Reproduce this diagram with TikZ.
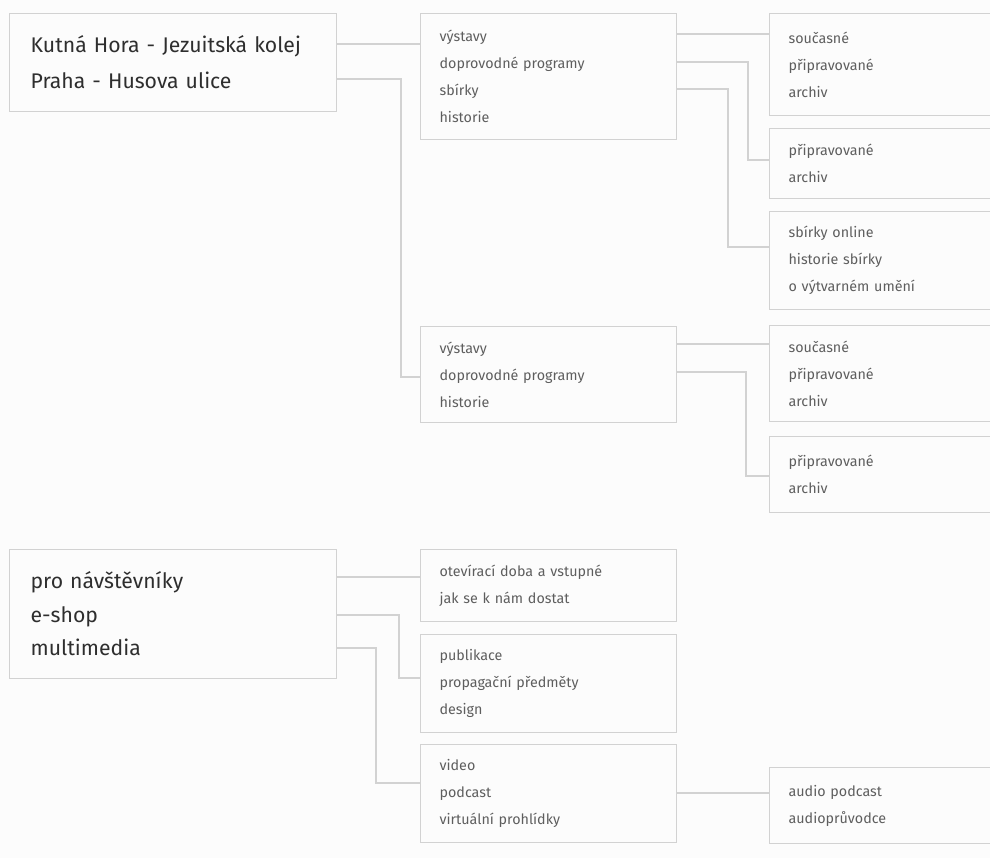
\documentclass[tikz,border=0pt]{standalone}
\usepackage{fontspec}
\setmainfont{Fira Sans}
\usepackage{xcolor}
\usepackage{tikz}
\definecolor{frame1}{HTML}{D2D2D2}
\definecolor{ink1}{HTML}{2E2E2E}
\definecolor{ink2}{HTML}{5E5E5E}
\definecolor{paper}{HTML}{FCFCFC}

\begin{document}
\begin{tikzpicture}[x=1pt, y=-1pt,
    box/.style={draw=frame1, line width=1.2pt, anchor=north west, align=left,
      inner xsep=19pt, inner ysep=0pt, text=ink2, font=\fontsize{14.3}{27}\selectfont},
    mainbox/.style={box, inner xsep=21pt, text=ink1},
    link/.style={draw=frame1, line width=1.2pt}]

    \useasboundingbox (0,0) rectangle (990,858);
    \fill[paper] (0,0) rectangle (990,858);
    \clip (0,0) rectangle (990,858);

    % top block: the two sites
    \node[mainbox, text width=285pt, minimum height=98pt,
      font=\fontsize{21.2}{36}\selectfont] (sites) at (9,13)
      {Kutná Hora - Jezuitská kolej\\Praha - Husova ulice};

    \node[box, text width=218pt, minimum height=126pt] (kh) at (420,13)
      {výstavy\\doprovodné programy\\sbírky\\historie};
    \node[box, text width=218pt, minimum height=96pt] (ph) at (420,326)
      {výstavy\\doprovodné programy\\historie};

    % right column, cut off by the page edge
    \node[box, text width=222pt, minimum height=102pt] (khvys) at (769,13)
      {současné\\připravované\\archiv};
    \node[box, text width=222pt, minimum height=70pt] (khprog) at (769,128)
      {připravované\\archiv};
    \node[box, text width=222pt, minimum height=98pt] (khsb) at (769,211)
      {sbírky online\\historie sbírky\\o výtvarném umění};
    \node[box, text width=222pt, minimum height=96pt] (phvys) at (769,325)
      {současné\\připravované\\archiv};
    \node[box, text width=222pt, minimum height=76pt] (phprog) at (769,436)
      {připravované\\archiv};

    % bottom block: services
    \node[mainbox, text width=285pt, minimum height=129pt,
      font=\fontsize{21.2}{33.5}\selectfont] (serv) at (9,549)
      {pro návštěvníky\\e-shop\\multimedia};

    \node[box, text width=218pt, minimum height=72pt] (visit) at (420,549)
      {otevírací doba a vstupné\\jak se k nám dostat};
    \node[box, text width=218pt, minimum height=98pt] (shop) at (420,634)
      {publikace\\propagační předměty\\design};
    \node[box, text width=218pt, minimum height=98pt] (media) at (420,744)
      {video\\podcast\\virtuální prohlídky};
    \node[box, text width=222pt, minimum height=76pt] (audio) at (769,767)
      {audio podcast\\audioprůvodce};

    % connectors
    \draw[link] (sites.east |- 0,44) -- (kh.west |- 0,44);
    \draw[link] (sites.east |- 0,79) -| (401,377) -- (ph.west |- 0,377);

    \draw[link] (kh.east |- 0,34) -- (khvys.west |- 0,34);
    \draw[link] (kh.east |- 0,62) -| (748,160) -- (khprog.west |- 0,160);
    \draw[link] (kh.east |- 0,89) -| (728,247) -- (khsb.west |- 0,247);

    \draw[link] (ph.east |- 0,344) -- (phvys.west |- 0,344);
    \draw[link] (ph.east |- 0,372) -| (746,476) -- (phprog.west |- 0,476);

    \draw[link] (serv.east |- 0,577) -- (visit.west |- 0,577);
    \draw[link] (serv.east |- 0,615) -| (399,678) -- (shop.west |- 0,678);
    \draw[link] (serv.east |- 0,648) -| (376,783) -- (media.west |- 0,783);

    \draw[link] (media.east |- 0,793) -- (audio.west |- 0,793);

\end{tikzpicture}
\end{document}
